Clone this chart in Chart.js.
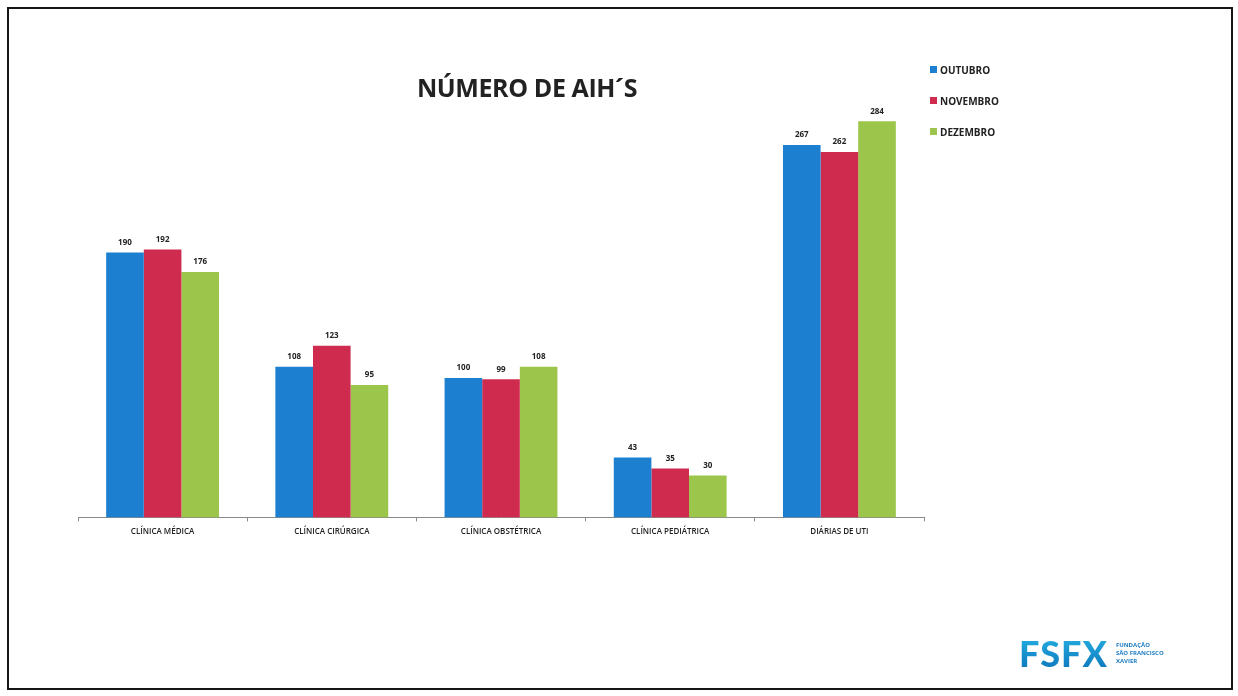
<!DOCTYPE html>
<html>
<head>
<meta charset="utf-8">
<script src="https://cdn.jsdelivr.net/npm/chart.js@4"></script>
<style>
  html, body { margin: 0; padding: 0; background: #fff; }
  body { width: 1238px; height: 696px; position: relative; overflow: hidden; font-family: "Open Sans", sans-serif; }
  #frame { position: absolute; left: 7px; top: 7px; width: 1226px; height: 683px; border: 2px solid #151515; box-sizing: border-box; }
  #wrap { position: absolute; left: 0; top: 0; width: 1238px; height: 696px; }
  #title { position: absolute; left: 0; width: 1054px; top: 70px; text-align: center; font: 700 25px "Open Sans", sans-serif; color: #222; letter-spacing: -0.4px; }
  #legend { position: absolute; left: 930px; top: 63px; }
  .item { height: 31px; font: 700 10px "Open Sans", sans-serif; color: #222; display: flex; align-items: flex-start; }
  .item span.box { width: 7px; height: 7px; margin-right: 3px; margin-top: 3px; }
  #logo { position: absolute; left: 1019px; top: 631px; display: flex; align-items: center; }
  #logo .big { font: 900 36px "Lato", sans-serif; letter-spacing: 1px; color: #1592d3;
    background: linear-gradient(180deg, #27b6e6, #0b6fb8); -webkit-background-clip: text; background-clip: text; -webkit-text-fill-color: transparent; }
  #logo .small { margin-left: 8px; font: 700 6px "Open Sans", sans-serif; color: #1a7cc4; line-height: 8px; }
</style>
</head>
<body>
<div id="frame"></div>
<div id="wrap"><canvas id="chart" width="1238" height="696"></canvas></div>
<div id="title">NÚMERO DE AIH´S</div>
<div id="legend"></div>
<div id="logo"><div class="big">FSFX</div><div class="small">FUNDAÇÃO<br>SÃO FRANCISCO<br>XAVIER</div></div>
<script>
const categories = ['CLÍNICA MÉDICA', 'CLÍNICA CIRÚRGICA', 'CLÍNICA OBSTÉTRICA', 'CLÍNICA PEDIÁTRICA', 'DIÁRIAS DE UTI'];
const outubro = [190, 108, 100, 43, 267];
const novembro = [192, 123, 99, 35, 262];
const dezembro = [176, 95, 108, 30, 284];
const seriesNames = ['OUTUBRO', 'NOVEMBRO', 'DEZEMBRO'];
const seriesColors = ['#1c7fd0', '#cf2b4e', '#9cc54c'];

// values written above each bar
const valueLabels = {
  id: 'valueLabels',
  afterDatasetsDraw(chart) {
    const ctx = chart.ctx;
    ctx.save();
    ctx.font = '700 8px "Open Sans", sans-serif';
    ctx.fillStyle = '#222';
    ctx.textAlign = 'center';
    ctx.textBaseline = 'bottom';
    chart.data.datasets.forEach((ds, i) => {
      chart.getDatasetMeta(i).data.forEach((bar, j) => {
        ctx.fillText(ds.data[j], bar.x, bar.y - 6);
      });
    });
    ctx.restore();
  }
};

const chart = new Chart(document.getElementById('chart'), {
  type: 'bar',
  data: {
    labels: categories,
    datasets: [
      { label: seriesNames[0], data: outubro, backgroundColor: seriesColors[0] },
      { label: seriesNames[1], data: novembro, backgroundColor: seriesColors[1] },
      { label: seriesNames[2], data: dezembro, backgroundColor: seriesColors[2] }
    ]
  },
  options: {
    responsive: false,
    animation: false,
    devicePixelRatio: 1,
    layout: { padding: { left: 78, right: 314, top: 99, bottom: 153 } },
    datasets: { bar: { categoryPercentage: 0.667, barPercentage: 1.0 } },
    plugins: { legend: { display: false }, title: { display: false }, tooltip: { enabled: false } },
    scales: {
      x: {
        grid: { display: true, drawOnChartArea: false, tickLength: 4, color: '#8a8a8a', offset: true },
        border: { color: '#8a8a8a', width: 1 },
        ticks: { padding: 6, color: '#222', font: { family: '"Open Sans", sans-serif', size: 8, weight: '600' }, maxRotation: 0 }
      },
      y: { display: false, min: 0, max: 300 }
    }
  },
  plugins: [valueLabels]
});

// legend built from the chart's datasets
const legend = document.getElementById('legend');
chart.data.datasets.forEach(ds => {
  const row = document.createElement('div');
  row.className = 'item';
  row.innerHTML = '<span class="box" style="background:' + ds.backgroundColor + '"></span>' + ds.label;
  legend.appendChild(row);
});
</script>
</body>
</html>
